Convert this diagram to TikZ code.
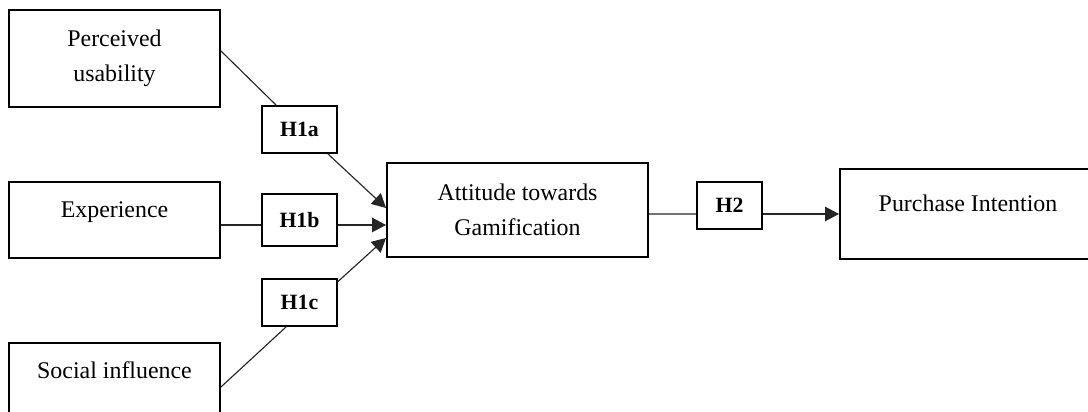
\documentclass[tikz,border=0pt]{standalone}
\usepackage{fontspec}
\setmainfont{Liberation Serif}
\usetikzlibrary{arrows.meta,positioning,calc}
\tikzset{
  constr/.style={rectangle,draw=black,line width=1.1pt,fill=white,inner sep=1pt,font=\fontsize{13.6}{19.8}\selectfont,align=center},
  topconstr/.style={constr,text height=.33cm,text depth=.44cm},
  hyp/.style={rectangle,draw=black,line width=1.1pt,fill=white,inner sep=1pt,minimum width=1.5cm,minimum height=.94cm,font=\fontsize{12.4}{14}\selectfont\bfseries},
  link/.style={line width=.65pt,black!85},
  linkarr/.style={link,-{Triangle[length=2.8mm,width=2.9mm]}},
}
\begin{document}
\begin{tikzpicture}
  \useasboundingbox (0,0) rectangle (21.76,8.24);
  % constructs
  \node[constr,minimum width=4.22cm,minimum height=1.94cm] (pu) at (2.29,7.07) {Perceived\\usability};
  \node[topconstr,minimum width=4.22cm,minimum height=1.52cm] (exp) at (2.29,3.84) {Experience};
  \node[topconstr,minimum width=4.22cm,minimum height=1.52cm] (soc) at (2.29,.62) {Social influence};
  \node[constr,minimum width=5.22cm,minimum height=1.88cm] (att) at (10.35,4.04) {Attitude towards\\Gamification};
  \node[topconstr,minimum width=5.12cm,minimum height=1.8cm] (pi) at (19.36,3.96) {Purchase Intention};
  % hypotheses
  \node[hyp] (h1a) at (5.99,5.65) {H1a};
  \node[hyp,minimum height=1.04cm] (h1b) at (5.99,3.84) {H1b};
  \node[hyp] (h1c) at (5.99,2.19) {H1c};
  \node[hyp,minimum width=1.3cm] (h2) at (14.59,4.13) {H2};
  % paths
  \draw[link] ([yshift=.15cm]pu.east) -- ([xshift=.3cm]h1a.north west);
  \draw[linkarr] ([xshift=-.2cm]h1a.south east) -- ([yshift=.04cm]att.west);
  \draw[link] ([yshift=-.1cm]exp.east) -- ([yshift=-.1cm]h1b.west);
  \draw[linkarr] ([yshift=-.1cm]h1b.east) -- ([yshift=-.3cm]att.west);
  \draw[link] ([yshift=-.12cm]soc.east) -- ([xshift=.5cm]h1c.south west);
  \draw[linkarr] ([yshift=-.07cm]h1c.north east) -- ([yshift=-.56cm]att.west);
  \draw[link] ([yshift=-.08cm]att.east) -- ([yshift=-.17cm]h2.west);
  \draw[linkarr] ([yshift=-.17cm]h2.east) -- (pi.west);
\end{tikzpicture}
\end{document}
